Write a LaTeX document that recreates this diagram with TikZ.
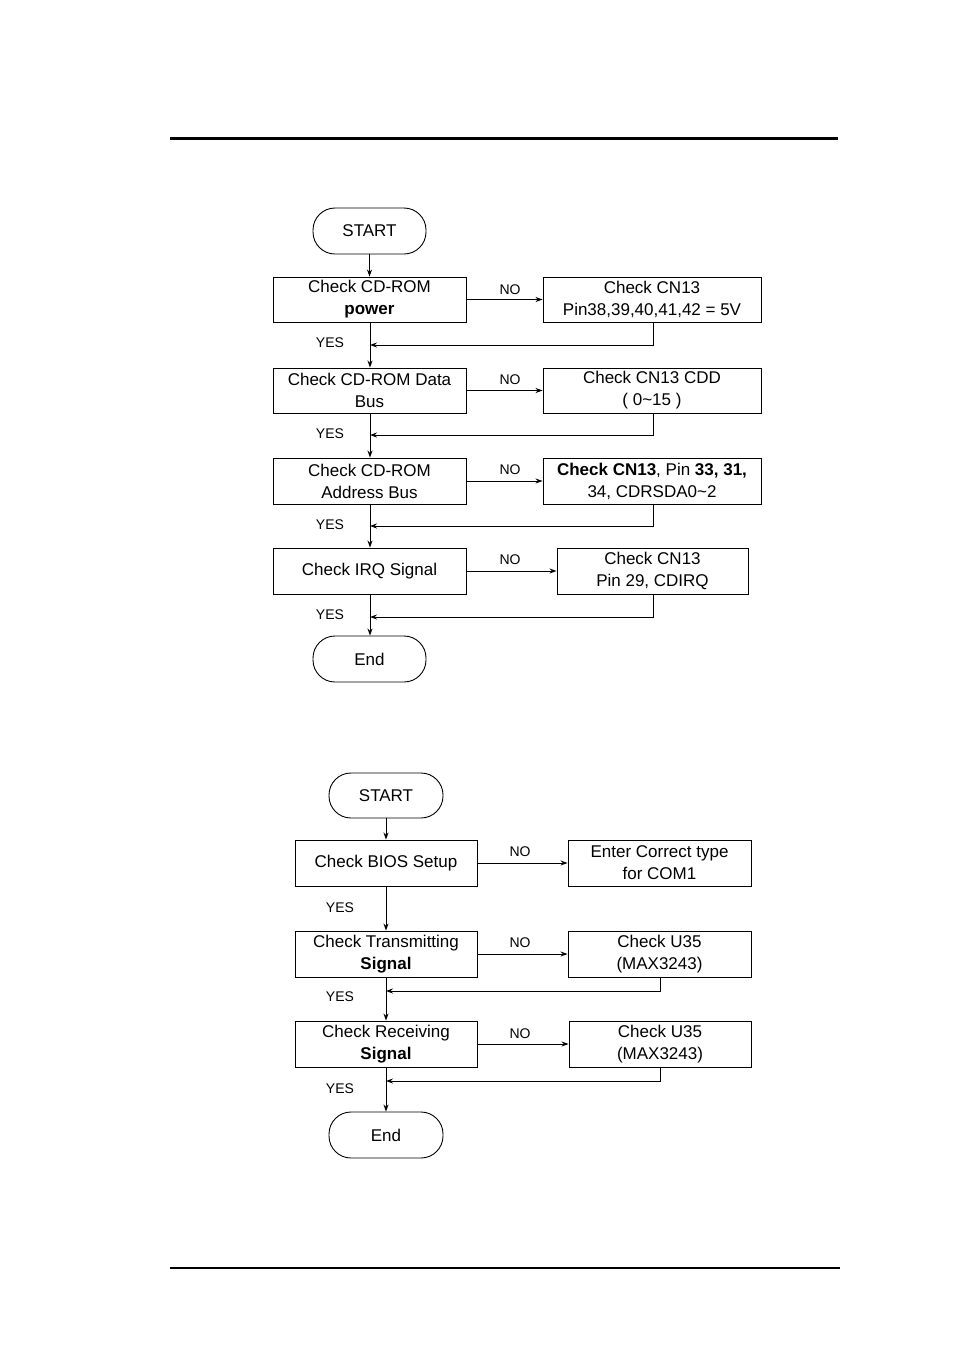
\documentclass[tikz,border=0pt]{standalone}
\usepackage{fontspec}
\setmainfont{Liberation Sans}
\usetikzlibrary{arrows.meta}
\begin{document}
\begin{tikzpicture}[x=1pt,y=-1pt,
  box/.style={draw,line width=0.9pt,inner sep=0pt,align=center,font=\fontsize{17}{22}\selectfont},
  term/.style={draw,line width=0.9pt,rounded corners=22pt,inner sep=0pt,align=center,font=\fontsize{17}{20}\selectfont},
  lab/.style={font=\fontsize{14}{16}\selectfont},
  ar/.style={line width=1pt,-{Stealth[length=7pt,width=5pt]}},
  ln/.style={line width=1pt}]
\useasboundingbox (0,0) rectangle (954,1350);
\draw[line width=3pt] (170,138) -- (838,138);
\draw[line width=1.5pt] (170,1268) -- (840,1268);
% chart 1
\node[term,minimum width=113pt,minimum height=46pt] (s1) at (369.5,231) {START};
\node[box,minimum width=193pt,minimum height=45pt] (a1) at (369.5,299.5) {Check CD-ROM\\\textbf{power}};
\node[box,minimum width=218pt,minimum height=45pt] (n1) at (652,299.5) {Check CN13\\Pin38,39,40,41,42 = 5V};
\node[box,minimum width=193pt,minimum height=45pt] (a2) at (369.5,390.5) {Check CD-ROM Data\\Bus};
\node[box,minimum width=218pt,minimum height=45pt] (n2) at (652,390.5) {Check CN13 CDD\\( 0\textasciitilde15 )};
\node[box,minimum width=193pt,minimum height=46pt] (a3) at (369.5,481) {Check CD-ROM\\Address Bus};
\node[box,minimum width=218pt,minimum height=46pt] (n3) at (652,481) {\textbf{Check CN13}, Pin \textbf{33, 31,}\\34, CDRSDA0\textasciitilde2};
\node[box,minimum width=193pt,minimum height=46pt] (a4) at (369.5,571) {Check IRQ Signal};
\node[box,minimum width=191pt,minimum height=46pt] (n4) at (652.5,571) {Check CN13\\Pin 29, CDIRQ};
\node[term,minimum width=113pt,minimum height=46pt] (e1) at (369.5,659) {End};
\coordinate (r1) at (370,345); \coordinate (r2) at (370,435);
\coordinate (r3) at (370,526); \coordinate (r4) at (370,617);
\draw[ar] (s1) -- (a1);
\draw[ar] (a1.south -| r1) -- (a2.north -| r1);
\draw[ar] (a2.south -| r1) -- (a3.north -| r1);
\draw[ar] (a3.south -| r1) -- (a4.north -| r1);
\draw[ar] (a4.south -| r1) -- (e1.north -| r1);
\foreach \a/\n/\r in {a1/n1/r1,a2/n2/r2,a3/n3/r3,a4/n4/r4}{
  \draw[ar] (\a.east) -- (\n.west);
  \draw[ar] (\n.south -| 653,0) |- (\r);
}
\foreach \y/\yy in {290/343,380/434,470/525,560/615}{
  \node[lab] at (510,\y) {NO};
  \node[lab] at (330,\yy) {YES};
}
% chart 2
\node[term,minimum width=114pt,minimum height=45pt] (s2) at (386,795.5) {START};
\node[box,minimum width=182pt,minimum height=46pt] (b1) at (386,863) {Check BIOS Setup};
\node[box,minimum width=183pt,minimum height=46pt] (m1) at (659.5,863) {Enter Correct type\\for COM1};
\node[box,minimum width=182pt,minimum height=46pt] (b2) at (386,954) {Check Transmitting\\\textbf{Signal}};
\node[box,minimum width=183pt,minimum height=46pt] (m2) at (659.5,954) {Check U35\\(MAX3243)};
\node[box,minimum width=182pt,minimum height=46pt] (b3) at (386,1044) {Check Receiving\\\textbf{Signal}};
\node[box,minimum width=182pt,minimum height=46pt] (m3) at (660,1044) {Check U35\\(MAX3243)};
\node[term,minimum width=114pt,minimum height=46pt] (e2) at (386,1135) {End};
\coordinate (q2) at (386,991); \coordinate (q3) at (386,1081);
\draw[ar] (s2) -- (b1);
\draw[ar] (b1) -- (b2);
\draw[ar] (b2) -- (b3);
\draw[ar] (b3) -- (e2);
\draw[ar] (b1.east) -- (m1.west);
\draw[ar] (b2.east) -- (m2.west);
\draw[ar] (b3.east) -- (m3.west);
\draw[ar] (m2.south -| 660,0) |- (q2);
\draw[ar] (m3.south -| 660,0) |- (q3);
\foreach \y/\yy in {852/908,943/997,1034/1089}{
  \node[lab] at (520,\y) {NO};
  \node[lab] at (340,\yy) {YES};
}
\end{tikzpicture}
\end{document}
